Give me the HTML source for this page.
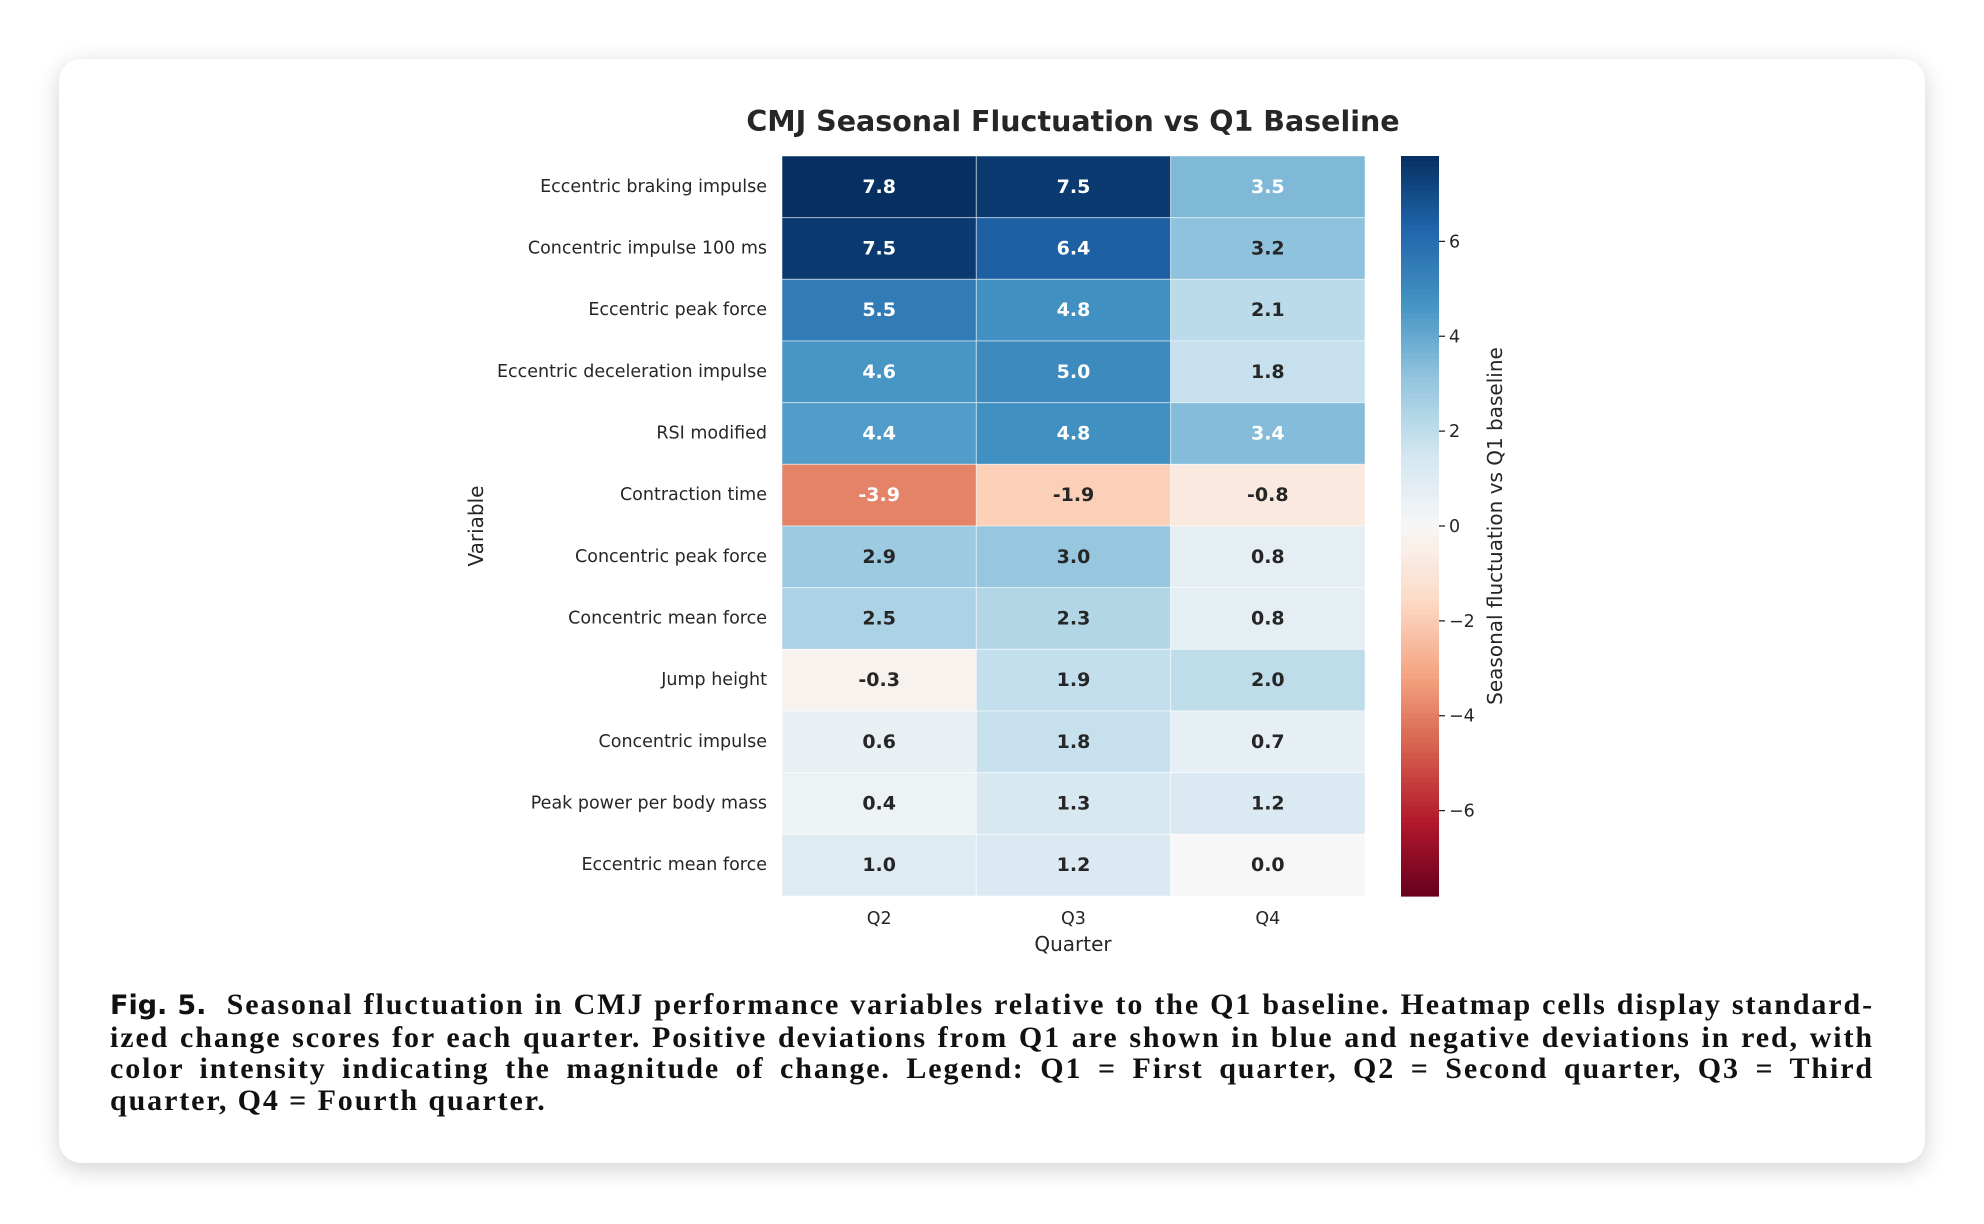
<!DOCTYPE html>
<html><head><meta charset="utf-8"><style>
body{margin:0;background:#fff;width:1984px;height:1224px;position:relative;overflow:hidden;font-family:"DejaVu Sans","Liberation Sans",sans-serif}
#card{position:absolute;left:59px;top:59px;width:1866px;height:1104px;background:#fff;border-radius:22px;box-shadow:0 6px 24px rgba(0,0,0,0.18)}
#cap{position:absolute;left:110px;top:989px;width:1764px;font-family:"Liberation Serif",serif;font-weight:bold;font-size:30px;letter-spacing:1.9px;line-height:31.5px;color:#111}
#cap div{text-align:justify;text-align-last:justify;white-space:nowrap}
#cap div.last{text-align-last:left}
</style></head><body>
<div id="card"></div>
<svg id="chart" width="1984" height="1224" style="position:absolute;left:0;top:0"></svg>
<div id="cap">
<div><span style="font-family:'DejaVu Sans',sans-serif;font-size:27px;letter-spacing:0">Fig. 5.</span>&nbsp; Seasonal fluctuation in CMJ performance variables relative to the Q1 baseline. Heatmap cells display standard-</div>
<div>ized change scores for each quarter. Positive deviations from Q1 are shown in blue and negative deviations in red, with</div>
<div>color intensity indicating the magnitude of change. Legend: Q1 = First quarter, Q2 = Second quarter, Q3 = Third</div>
<div class="last">quarter, Q4 = Fourth quarter.</div>
</div>
<script>
const rows=["Eccentric braking impulse","Concentric impulse 100 ms","Eccentric peak force","Eccentric deceleration impulse","RSI modified","Contraction time","Concentric peak force","Concentric mean force","Jump height","Concentric impulse","Peak power per body mass","Eccentric mean force"];
const cols=["Q2","Q3","Q4"];
const q2=[7.8,7.5,5.5,4.6,4.4,-3.9,2.9,2.5,-0.3,0.6,0.4,1.0];
const q3=[7.5,6.4,4.8,5.0,4.8,-1.9,3.0,2.3,1.9,1.8,1.3,1.2];
const q4=[3.5,3.2,2.1,1.8,3.4,-0.8,0.8,0.8,2.0,0.7,1.2,0.0];
const cbTicks=[6,4,2,0,-2,-4,-6];
const series=[q2,q3,q4];
const vmax=7.8,vmin=-7.8;
const L=782,R=1365,T=156,B=896;
const cw=(R-L)/cols.length,rh=(B-T)/rows.length;
const anchors=["#67001f","#b2182b","#d6604d","#f4a582","#fddbc7","#f7f7f7","#d1e5f0","#92c5de","#4393c3","#2166ac","#053061"];
function hx(h){return [1,3,5].map(i=>parseInt(h.substr(i,2),16));}
function color(v){let t=(v-vmin)/(vmax-vmin);t=Math.max(0,Math.min(1,t));const p=t*10,i=Math.min(9,Math.floor(p)),f=p-i;const a=hx(anchors[i]),b=hx(anchors[i+1]);return "rgb("+a.map((x,k)=>Math.round(x+(b[k]-x)*f)).join(",")+")";}
const NS="http://www.w3.org/2000/svg",svg=document.getElementById("chart");
function el(tag,attrs,txt){const e=document.createElementNS(NS,tag);for(const k in attrs)e.setAttribute(k,attrs[k]);if(txt!==undefined)e.textContent=txt;svg.appendChild(e);return e;}
let t=el("text",{x:1073,y:131,"text-anchor":"middle","font-size":28.5,"font-weight":"bold",fill:"#262626"},"CMJ Seasonal Fluctuation vs Q1 Baseline");


series.forEach((s,ci)=>{s.forEach((v,ri)=>{
 const r=el("rect",{x:L+ci*cw,y:T+ri*rh,width:cw,height:rh,fill:color(v),stroke:"#fff","stroke-opacity":0.5,"stroke-width":1});
 
 
 const tc=Math.abs(v)>3.2?"#fff":"#262626";
 const tx=el("text",{x:L+ci*cw+cw/2,y:T+ri*rh+rh/2+6,"text-anchor":"middle","font-size":19,"font-weight":"bold",fill:tc},v.toFixed(1));
 
 
});});
rows.forEach((n,ri)=>{const e=el("text",{x:767,y:T+ri*rh+rh/2+5,"text-anchor":"end","font-size":17.5,fill:"#262626"},n);
 
 });
cols.forEach((n,ci)=>{const e=el("text",{x:L+ci*cw+cw/2,y:924,"text-anchor":"middle","font-size":17.5,fill:"#262626"},n);
 
 });
t=el("text",{x:1073,y:951,"text-anchor":"middle","font-size":20,fill:"#262626"},"Quarter");


t=el("text",{x:0,y:0,"text-anchor":"middle","font-size":20,fill:"#262626",transform:"translate(483,526) rotate(-90)"},"Variable");


const cbL=1401,cbW=38,N=150;
for(let i=0;i<N;i++){const v=vmax-(i+0.5)*(vmax-vmin)/N;const r=el("rect",{x:cbL,y:T+i*(B-T)/N,width:cbW,height:(B-T)/N+0.6,fill:color(v)});
 
 }
function cy(v){return T+(vmax-v)/(vmax-vmin)*(B-T);}
cbTicks.forEach(v=>{const y=cy(v);
 const l=el("line",{x1:cbL+cbW,x2:cbL+cbW+6,y1:y,y2:y,stroke:"#262626","stroke-width":1.3});
 
 
 const e=el("text",{x:cbL+cbW+10,y:y+6,"font-size":17.5,fill:"#262626"},v<0?"\u2212"+Math.abs(v):String(v));
 
 });
t=el("text",{x:0,y:0,"text-anchor":"middle","font-size":20,fill:"#262626",transform:"translate(1502,526) rotate(-90)"},"Seasonal fluctuation vs Q1 baseline");


</script>
</body></html>
